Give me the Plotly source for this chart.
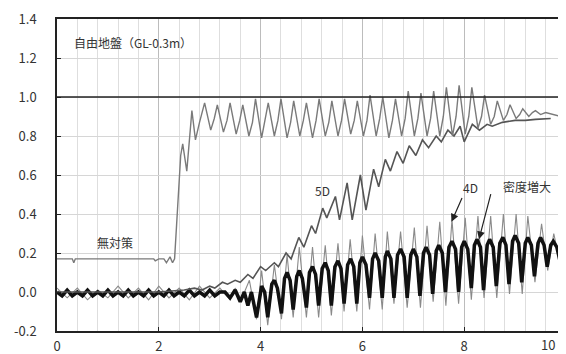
import plotly.graph_objects as go

# ---------------- data ----------------
# 無対策 (no countermeasure)
t_mutai = [0.0, 0.3, 0.33, 0.36, 0.8, 1.2, 1.6, 1.9, 1.93, 2.0, 2.1, 2.15, 2.22, 2.27, 2.31, 2.37, 2.43, 2.47, 2.55, 2.65, 2.72, 2.8,
           2.9, 3.02, 3.09, 3.15, 3.27, 3.34, 3.4, 3.52, 3.59, 3.65, 3.77, 3.84,
           3.9, 4.02, 4.09, 4.15, 4.27, 4.34, 4.4, 4.52, 4.59, 4.65, 4.77, 4.84,
           4.9, 5.02, 5.09, 5.15, 5.27, 5.34, 5.4, 5.52, 5.59, 5.65, 5.77, 5.84,
           5.9, 6.02, 6.09, 6.15, 6.27, 6.34, 6.4, 6.52, 6.59, 6.65, 6.77, 6.84,
           6.9, 7.02, 7.09, 7.15, 7.27, 7.34, 7.4, 7.52, 7.59, 7.65, 7.77, 7.84,
           7.9, 8.02, 8.09, 8.15, 8.27, 8.34, 8.4, 8.52, 8.59, 8.65, 8.77, 8.84,
           8.9, 9.02, 9.09, 9.15, 9.27, 9.34, 9.4, 9.5, 9.6, 9.75, 9.9, 10.0]
v_mutai = [0.17, 0.17, 0.15, 0.17, 0.17, 0.17, 0.17, 0.17, 0.16, 0.17, 0.17, 0.15, 0.18, 0.15, 0.17, 0.45, 0.70, 0.76, 0.62, 0.93, 0.78, 0.87,
           0.97, 0.83, 0.89, 0.96, 0.82, 0.88, 0.97, 0.81, 0.88, 0.96, 0.80, 0.87,
           0.99, 0.79, 0.88, 0.97, 0.80, 0.88, 0.99, 0.79, 0.87, 0.98, 0.80, 0.88,
           0.97, 0.79, 0.88, 0.99, 0.80, 0.87, 0.98, 0.80, 0.88, 0.99, 0.81, 0.88,
           0.98, 0.80, 0.88, 1.01, 0.80, 0.89, 1.00, 0.79, 0.88, 0.99, 0.80, 0.89,
           1.03, 0.80, 0.89, 1.02, 0.80, 0.89, 1.03, 0.80, 0.90, 1.05, 0.80, 0.90,
           1.06, 0.81, 0.90, 1.05, 0.84, 0.90, 1.01, 0.86, 0.90, 0.98, 0.88, 0.91,
           0.96, 0.89, 0.91, 0.94, 0.90, 0.92, 0.93, 0.91, 0.92, 0.91, 0.90, 0.90]

# 5D
t_5d = [0.0, 0.5, 1.0, 1.5, 2.0, 2.5, 2.7, 2.85, 3.0, 3.1, 3.25, 3.35, 3.5, 3.6, 3.75, 3.85,
        4.0, 4.1, 4.27, 4.35, 4.5, 4.6, 4.75, 4.85, 5.0, 5.08, 5.22, 5.3, 5.47, 5.55, 5.7, 5.8,
        5.96, 6.07, 6.22, 6.32, 6.45, 6.55, 6.68, 6.8, 6.92, 7.05, 7.18, 7.3, 7.45, 7.55, 7.68, 7.8,
        7.92, 8.0, 8.16, 8.3, 8.45, 8.55, 8.75, 9.0, 9.2, 9.4, 9.7]
v_5d = [0.0, 0.0, 0.0, 0.0, 0.0, 0.01, 0.02, 0.01, 0.03, 0.02, 0.05, 0.04, 0.06, 0.05, 0.09, 0.07,
        0.13, 0.11, 0.15, 0.13, 0.20, 0.17, 0.28, 0.23, 0.34, 0.30, 0.43, 0.38, 0.49, 0.37, 0.56, 0.37,
        0.60, 0.42, 0.63, 0.54, 0.68, 0.62, 0.72, 0.66, 0.75, 0.70, 0.78, 0.74, 0.80, 0.77, 0.83, 0.80,
        0.85, 0.77, 0.86, 0.83, 0.86, 0.85, 0.87, 0.88, 0.88, 0.885, 0.89]

# 4D
t_4d = [0.0, 0.2, 0.4, 0.6, 0.8, 1.0, 1.2, 1.4, 1.6, 1.8, 2.0, 2.2, 2.4, 2.6, 2.8, 3.0, 3.2, 3.4,
        3.5, 3.62, 3.78, 3.92, 4.02, 4.14, 4.27, 4.41, 4.52, 4.64, 4.76, 4.9, 5.02, 5.14, 5.27, 5.39,
        5.52, 5.64, 5.76, 5.89, 6.0, 6.14, 6.25, 6.39, 6.49, 6.62, 6.75, 6.88, 7.02, 7.14, 7.27, 7.39,
        7.52, 7.64, 7.76, 7.89, 8.02, 8.14, 8.27, 8.39, 8.52, 8.64, 8.77, 8.89, 9.02, 9.14, 9.25, 9.39,
        9.52, 9.64, 9.76, 9.88, 10.0]
v_4d = [0.02, -0.03, 0.02, -0.04, 0.01, -0.03, 0.03, -0.03, 0.02, -0.04, 0.03, -0.03, 0.02, -0.04, 0.03, -0.03, 0.02, -0.04,
        0.02, -0.04, 0.06, -0.14, 0.11, -0.17, 0.14, -0.14, 0.19, -0.13, 0.23, -0.13, 0.23, -0.13, 0.24, -0.12,
        0.25, -0.10, 0.27, -0.10, 0.29, -0.09, 0.30, -0.09, 0.31, -0.06, 0.31, -0.08, 0.33, -0.08, 0.34, -0.05,
        0.36, -0.07, 0.37, -0.06, 0.38, -0.04, 0.39, -0.03, 0.39, -0.03, 0.40, -0.01, 0.40, -0.01, 0.39, 0.05,
        0.35, 0.11, 0.30, 0.15, 0.24]

# 密度増大 (densification)
t_mitsudo = [0.0, 0.1, 0.2, 0.3, 0.4, 0.5, 0.6, 0.7, 0.8, 0.9, 1.0, 1.1, 1.2, 1.3, 1.4, 1.5, 1.6, 1.7, 1.8, 1.9,
             2.0, 2.1, 2.2, 2.3, 2.4, 2.5, 2.6, 2.7, 2.8, 2.9, 3.0, 3.1, 3.2, 3.3, 3.4, 3.5, 3.6, 3.68, 3.75, 3.82,
             3.92, 4.02, 4.08, 4.14, 4.22, 4.27, 4.33, 4.41, 4.47, 4.52, 4.58, 4.64, 4.71, 4.76, 4.82, 4.9, 4.96,
             5.02, 5.08, 5.14, 5.21, 5.27, 5.33, 5.39, 5.46, 5.52, 5.58, 5.64, 5.71, 5.77, 5.83, 5.89, 5.95,
             6.0, 6.07, 6.14, 6.2, 6.25, 6.32, 6.39, 6.45, 6.49, 6.56, 6.62, 6.69, 6.75, 6.82, 6.88, 6.95,
             7.0, 7.07, 7.13, 7.2, 7.25, 7.32, 7.38, 7.45, 7.5, 7.57, 7.63, 7.7, 7.76, 7.83, 7.89, 7.95,
             8.0, 8.07, 8.14, 8.2, 8.25, 8.32, 8.38, 8.45, 8.5, 8.57, 8.63, 8.7, 8.76, 8.82, 8.88, 8.95,
             9.0, 9.07, 9.13, 9.2, 9.25, 9.32, 9.38, 9.45, 9.5, 9.57, 9.63, 9.7, 9.75, 9.82, 9.88, 9.95, 10.0]
v_mitsudo = [0.0, -0.02, 0.01, -0.02, 0.0, -0.02, 0.01, -0.02, 0.0, -0.02, 0.01, -0.02, 0.0, -0.02, 0.01, -0.02, 0.0, -0.02, 0.01, -0.02,
             0.0, -0.02, 0.01, -0.02, 0.0, -0.02, 0.01, -0.02, 0.0, -0.02, 0.01, -0.02, 0.0, 0.0, -0.03, 0.01, -0.05, 0.0, -0.07, 0.0,
             -0.13, 0.03, 0.0, -0.13, 0.04, 0.06, 0.02, -0.11, 0.07, 0.10, 0.06, -0.09, 0.08, 0.11, 0.07, -0.08, 0.10,
             0.13, 0.09, -0.07, 0.12, 0.15, 0.11, -0.07, 0.13, 0.16, 0.12, -0.06, 0.14, 0.17, 0.13, -0.06, 0.15,
             0.18, 0.14, -0.03, 0.17, 0.20, 0.16, -0.03, 0.18, 0.21, 0.17, -0.03, 0.19, 0.22, 0.18, -0.03, 0.19,
             0.22, 0.18, -0.02, 0.20, 0.23, 0.19, -0.01, 0.21, 0.24, 0.20, 0.0, 0.23, 0.26, 0.22, 0.0, 0.23,
             0.26, 0.22, 0.02, 0.24, 0.27, 0.23, 0.01, 0.24, 0.27, 0.23, 0.03, 0.25, 0.28, 0.24, 0.04, 0.26,
             0.29, 0.25, 0.05, 0.25, 0.28, 0.24, 0.08, 0.25, 0.28, 0.24, 0.13, 0.24, 0.26, 0.23, 0.16, 0.21, 0.20]

x_ticks = [0, 2, 4, 6, 8, 10]
x_labels = ["0", "2", "4", "6", "8", "10"]
y_ticks = [-0.2, 0.0, 0.2, 0.4, 0.6, 0.8, 1.0, 1.2, 1.4]

FONT = "Noto Sans CJK JP, Noto Sans, sans-serif"

fig = go.Figure()
fig.add_trace(go.Scatter(x=t_4d, y=v_4d, mode="lines", name="4D",
                         line=dict(color="#8a8a8a", width=1.1)))
fig.add_trace(go.Scatter(x=t_mitsudo, y=v_mitsudo, mode="lines", name="密度増大",
                         line=dict(color="#111111", width=3.5)))
fig.add_trace(go.Scatter(x=t_5d, y=v_5d, mode="lines", name="5D",
                         line=dict(color="#555555", width=1.6)))
fig.add_trace(go.Scatter(x=t_mutai, y=v_mutai, mode="lines", name="無対策",
                         line=dict(color="#7a7a7a", width=1.4)))

# black reference line at 1.0
fig.add_shape(type="line", xref="x", yref="y", x0=0, x1=10, y0=1.0, y1=1.0,
              line=dict(color="#222222", width=1.5), layer="above")

annots = [
    dict(x=0.29, y=1.28, text="自由地盤（GL-0.3m）", xanchor="left"),
    dict(x=0.74, y=0.256, text="無対策", xanchor="left"),
    dict(x=5.22, y=0.52, text="5D", xanchor="center"),
    dict(x=8.13, y=0.535, text="4D", xanchor="center"),
    dict(x=8.72, y=0.54, text="密度増大", xanchor="left"),
]
for a in annots:
    fig.add_annotation(x=a["x"], y=a["y"], text=a["text"], xanchor=a["xanchor"], yanchor="middle",
                       showarrow=False, font=dict(family=FONT, size=12, color="#333333"))

# arrows
fig.add_annotation(x=7.75, y=0.36, ax=7.97, ay=0.49, xref="x", yref="y", axref="x", ayref="y",
                   text="", showarrow=True, arrowhead=2, arrowsize=1.3, arrowwidth=1.2, arrowcolor="#222222")
fig.add_annotation(x=8.29, y=0.27, ax=8.53, ay=0.51, xref="x", yref="y", axref="x", ayref="y",
                   text="", showarrow=True, arrowhead=2, arrowsize=1.3, arrowwidth=1.2, arrowcolor="#222222")

# last x tick label sits at the window edge: keep it visible, right-aligned inside the edge
fig.add_annotation(x=1.0, y=0, xref="paper", yref="paper", xanchor="right", yanchor="top",
                   text=x_labels[-1], showarrow=False, yshift=-2, xshift=-9,
                   font=dict(family=FONT, size=13, color="#333333"))

# the page body has an 8px margin, so the figure is sized/offset to land on the window
fig.update_layout(
    width=558, height=346,
    margin=dict(l=49, r=0, t=11, b=23, autoexpand=False),
    paper_bgcolor="white", plot_bgcolor="white",
    showlegend=False,
    font=dict(family=FONT, size=13, color="#333333"),
)
fig.update_xaxes(range=[0, 10], tickvals=x_ticks, ticktext=x_labels[:-1] + [""],
                 showgrid=True, gridcolor="#bcbcbc", gridwidth=1,
                 minor=dict(dtick=0.4, tick0=0, showgrid=True, gridcolor="#dedede", gridwidth=1),
                 showline=True, linecolor="#222222", linewidth=1.5, mirror=True,
                 ticks="inside", ticklen=4, tickcolor="#222222",
                 zeroline=False, ticklabelstandoff=3, automargin=False,
                 tickfont=dict(family=FONT, size=13, color="#333333"))
fig.update_yaxes(range=[-0.2, 1.4], tickvals=y_ticks, ticktext=["%.1f" % v for v in y_ticks],
                 showgrid=True, gridcolor="#d6d6d6", gridwidth=1,
                 showline=True, linecolor="#222222", linewidth=1.5,
                 ticks="inside", ticklen=4, tickcolor="#222222",
                 zeroline=False, ticklabelstandoff=16, automargin=False,
                 tickfont=dict(family=FONT, size=13, color="#333333"))

fig.write_html("out.html")
